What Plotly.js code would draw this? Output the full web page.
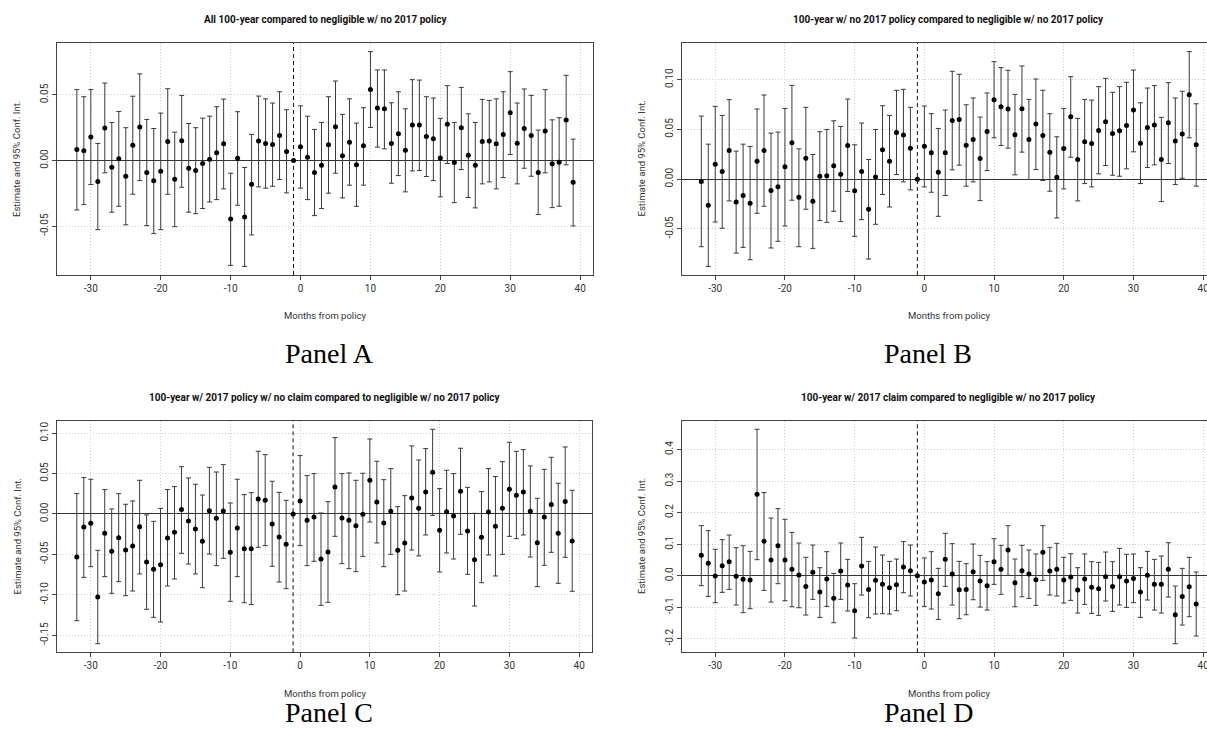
<!DOCTYPE html>
<html><head><meta charset="utf-8">
<script src="https://cdn.plot.ly/plotly-3.0.1.min.js"></script>
<style>html,body{margin:0;padding:0;background:#fff}#chart{width:1207px;height:745px}</style>
</head><body><div id="chart"></div>
<script>
// ---------- DATA ----------
const months = [-32,-31,-30,-29,-28,-27,-26,-25,-24,-23,-22,-21,-20,-19,-18,-17,-16,-15,-14,-13,-12,-11,-10,-9,-8,-7,-6,-5,-4,-3,-2,-1,0,1,2,3,4,5,6,7,8,9,10,11,12,13,14,15,16,17,18,19,20,21,22,23,24,25,26,27,28,29,30,31,32,33,34,35,36,37,38,39];

const titleA = "All 100-year compared to negligible w/ no 2017 policy";
const titleB = "100-year w/ no 2017 policy compared to negligible w/ no 2017 policy";
const titleC = "100-year w/ 2017 policy w/ no claim compared to negligible w/ no 2017 policy";
const titleD = "100-year w/ 2017 claim compared to negligible w/ no 2017 policy";
const panelLabels = ["Panel A","Panel B","Panel C","Panel D"];
const xAxisTitle = "Months from policy";
const yAxisTitle = "Estimate and 95% Conf. Int.";

const xTicks = [-30,-20,-10,0,10,20,30,40];
const xTickText = ["-30","-20","-10","0","10","20","30","40"];
const yTicksA = [-0.05,0,0.05];          const yTickTextA = ["-0.05","0.00","0.05"];
const yTicksB = [-0.05,0,0.05,0.10];     const yTickTextB = ["-0.05","0.00","0.05","0.10"];
const yTicksC = [-0.15,-0.10,-0.05,0,0.05,0.10]; const yTickTextC = ["-0.15","-0.10","-0.05","0.00","0.05","0.10"];
const yTicksD = [-0.2,-0.1,0,0.1,0.2,0.3,0.4];   const yTickTextD = ["-0.2","-0.1","0.0","0.1","0.2","0.3","0.4"];

const estA = [0.0084,0.0074,0.018,-0.016,0.0247,-0.0051,0.0013,-0.012,0.0117,0.0255,-0.0092,-0.0155,-0.0081,0.0145,-0.0143,0.015,-0.0059,-0.0076,-0.0023,0.001,0.0059,0.0127,-0.0445,0.0018,-0.043,-0.018,0.0148,0.013,0.0122,0.0191,0.0069,0,0.0104,0.0025,-0.0092,-0.0036,0.012,0.0257,0.0036,0.014,-0.0033,0.0112,0.0542,0.04,0.0394,0.013,0.0204,0.0079,0.027,0.027,0.0183,0.0165,0.002,0.0277,-0.0015,0.025,0.0041,-0.0036,0.0145,0.0148,0.0127,0.0199,0.0364,0.0132,0.0244,0.0191,-0.0092,0.0224,-0.0025,-0.0013,0.0308,-0.0165];
const lowA = [-0.0377,-0.0336,-0.0183,-0.0527,-0.0094,-0.0394,-0.0349,-0.049,-0.0257,-0.0153,-0.0496,-0.0557,-0.0527,-0.0257,-0.0504,-0.0204,-0.0394,-0.0405,-0.0366,-0.0316,-0.0298,-0.0216,-0.0799,-0.0341,-0.0807,-0.0567,-0.0201,-0.0211,-0.0196,-0.0145,-0.0247,0,-0.0211,-0.0298,-0.042,-0.0366,-0.0249,-0.0097,-0.0285,-0.0188,-0.0349,-0.0188,0.0252,0.0102,0.0089,-0.0173,-0.0115,-0.0239,-0.0079,-0.0076,-0.0122,-0.0153,-0.0277,-0.0023,-0.0321,-0.0069,-0.0282,-0.0361,-0.0178,-0.0163,-0.0216,-0.013,0.0046,-0.0178,-0.0059,-0.012,-0.0412,-0.0094,-0.0359,-0.0349,-0.0033,-0.0499];
const highA = [0.054,0.0486,0.054,0.013,0.059,0.029,0.0374,0.025,0.049,0.066,0.0313,0.0244,0.0361,0.0547,0.0216,0.0496,0.0282,0.025,0.0323,0.0338,0.041,0.0468,-0.0097,0.0372,-0.0053,0.0199,0.0491,0.047,0.0438,0.0524,0.0387,0,0.0417,0.0338,0.0237,0.029,0.0486,0.0606,0.0351,0.047,0.0285,0.0402,0.083,0.069,0.069,0.044,0.0524,0.0394,0.0616,0.0613,0.0486,0.0476,0.0321,0.057,0.029,0.0557,0.0356,0.029,0.0466,0.0458,0.047,0.0524,0.0677,0.0438,0.0545,0.0496,0.0232,0.054,0.031,0.0326,0.0649,0.0163];

const estB = [-0.0023,-0.0262,0.0151,0.0077,0.0289,-0.0228,-0.0164,-0.0242,0.0181,0.0289,-0.0114,-0.0077,0.0124,0.0366,-0.0181,0.0211,-0.0221,0.003,0.0034,0.0134,0.005,0.0339,-0.0117,0.0077,-0.0302,0.0023,0.0295,0.0181,0.047,0.0443,0.0312,0,0.0332,0.0265,0.007,0.0265,0.0591,0.0601,0.0342,0.0399,0.0208,0.048,0.0799,0.0728,0.0705,0.0446,0.0708,0.0399,0.0554,0.044,0.0272,0.002,0.0309,0.0628,0.0198,0.0376,0.0359,0.049,0.0577,0.046,0.0487,0.054,0.0695,0.0362,0.052,0.0544,0.0198,0.0567,0.0383,0.0453,0.0849,0.0346];
const lowB = [-0.0678,-0.0876,-0.043,-0.0493,-0.0218,-0.0742,-0.0685,-0.0809,-0.0342,-0.0272,-0.0691,-0.0624,-0.047,-0.0211,-0.0678,-0.0302,-0.0695,-0.0416,-0.0433,-0.0322,-0.0426,-0.0124,-0.0574,-0.0406,-0.0802,-0.0453,-0.0154,-0.0279,0.0047,-0.0027,-0.0107,0,-0.0077,-0.0131,-0.0373,-0.0164,0.0094,0.0141,-0.007,-0.0027,-0.0215,0.0087,0.0416,0.0339,0.0312,0.0044,0.0272,-0.0003,0.0097,-0.0013,-0.0121,-0.0389,-0.0097,0.0221,-0.0218,-0.0044,-0.0077,0.0054,0.0138,0.004,0.003,0.0104,0.0275,-0.0044,0.0117,0.0144,-0.0225,0.0158,-0.0054,0.001,0.0416,-0.007];
const highB = [0.0634,0.0352,0.0732,0.0641,0.0799,0.0282,0.0352,0.0329,0.0705,0.0846,0.0463,0.0473,0.0711,0.0943,0.0305,0.0722,0.0248,0.0477,0.05,0.0587,0.053,0.0805,0.0346,0.0564,0.0198,0.05,0.0738,0.0641,0.0893,0.0903,0.0722,0,0.0735,0.0658,0.051,0.0695,0.1084,0.1054,0.0748,0.0816,0.0624,0.0866,0.1181,0.1121,0.1094,0.0852,0.1138,0.0802,0.1007,0.0893,0.0658,0.0426,0.0711,0.103,0.0611,0.0802,0.0795,0.093,0.1013,0.0873,0.093,0.0973,0.1097,0.0768,0.0916,0.094,0.0621,0.097,0.0816,0.0883,0.1282,0.0758];

const estC = [-0.0533,-0.0161,-0.0116,-0.1028,-0.024,-0.0463,-0.0293,-0.0446,-0.0396,-0.0157,-0.0595,-0.0686,-0.0628,-0.0297,-0.0227,0.0054,-0.0087,-0.0186,-0.0339,0.0041,-0.0054,0.0037,-0.0475,-0.0173,-0.043,-0.043,0.0186,0.0169,-0.0124,-0.0285,-0.0376,0,0.0161,-0.0078,-0.0037,-0.0558,-0.0471,0.0335,-0.005,-0.0078,-0.0145,-0.0004,0.0417,0.0149,-0.0112,0.0033,-0.045,-0.0359,0.0198,0.007,0.0273,0.0516,-0.0202,0.0029,-0.0025,0.0281,-0.0211,-0.0566,-0.0289,0.0025,-0.0153,0.007,0.0306,0.0231,0.0273,0.0033,-0.0355,-0.0037,0.0116,-0.024,0.0153,-0.0335];
const lowC = [-0.1322,-0.0785,-0.0653,-0.1607,-0.0776,-0.0983,-0.0838,-0.1012,-0.0954,-0.0743,-0.1181,-0.128,-0.1338,-0.0892,-0.0805,-0.0487,-0.062,-0.0743,-0.0913,-0.0496,-0.064,-0.0549,-0.1082,-0.0776,-0.1099,-0.1123,-0.0413,-0.0392,-0.0648,-0.0843,-0.0925,0,-0.0392,-0.064,-0.0586,-0.1132,-0.1094,-0.0277,-0.0615,-0.0677,-0.0714,-0.0525,-0.0099,-0.0359,-0.0653,-0.05,-0.1,-0.0954,-0.0446,-0.052,-0.026,-0.0017,-0.0719,-0.0483,-0.0558,-0.0252,-0.0748,-0.114,-0.0851,-0.0508,-0.0768,-0.05,-0.0277,-0.0306,-0.026,-0.0533,-0.09,-0.0636,-0.0475,-0.0859,-0.0537,-0.0958];
const highC = [0.0252,0.045,0.043,-0.045,0.0302,0.0062,0.0252,0.012,0.0161,0.0417,-0.0012,-0.0091,0.007,0.0302,0.0339,0.0586,0.0446,0.0368,0.0235,0.0578,0.052,0.0611,0.0136,0.043,0.024,0.0264,0.0776,0.0735,0.0405,0.0268,0.0169,0,0.0723,0.0475,0.05,0.0012,0.0153,0.0946,0.05,0.0508,0.0417,0.0504,0.0929,0.0653,0.0425,0.0562,0.0091,0.0227,0.0843,0.0669,0.081,0.1049,0.0314,0.0541,0.05,0.0814,0.033,0.0008,0.0277,0.0562,0.0463,0.0648,0.0888,0.0776,0.0797,0.0595,0.0194,0.0553,0.0702,0.038,0.083,0.0293];

const estD = [0.0645,0.0391,-0.001,0.0317,0.0444,-0.0021,-0.0116,-0.0138,0.2582,0.109,0.0497,0.0952,0.0497,0.0201,0.0021,-0.0339,0.0106,-0.0518,-0.0106,-0.0719,0.0148,-0.0296,-0.1111,0.0307,-0.0434,-0.0148,-0.0275,-0.0381,-0.0286,0.0275,0.0159,0,-0.0201,-0.0138,-0.0571,0.0518,0.0053,-0.0444,-0.0434,0.0127,-0.0169,-0.0317,0.0444,0.0201,0.0815,-0.0222,0.0159,0.0053,-0.0127,0.0741,0.0148,0.0201,-0.0138,-0.0042,-0.0455,-0.0106,-0.037,-0.0413,-0.0032,-0.0339,-0.0032,-0.0169,-0.0085,-0.0518,0.0011,-0.0275,-0.0275,0.0201,-0.1238,-0.0656,-0.0349,-0.0899];
const lowD = [-0.0317,-0.0656,-0.0857,-0.0529,-0.0434,-0.0931,-0.1174,-0.1047,0.0508,-0.0466,-0.0836,-0.0254,-0.0794,-0.0984,-0.1016,-0.1248,-0.0751,-0.1323,-0.0973,-0.1492,-0.0751,-0.1121,-0.1978,-0.0614,-0.1333,-0.1217,-0.1206,-0.1217,-0.1111,-0.054,-0.0645,0,-0.0973,-0.1058,-0.1386,-0.0339,-0.0931,-0.1365,-0.1238,-0.0762,-0.0995,-0.109,-0.0275,-0.0592,0.0011,-0.0984,-0.0667,-0.0719,-0.0942,-0.0148,-0.0614,-0.0645,-0.0868,-0.0783,-0.1185,-0.091,-0.1196,-0.1259,-0.0804,-0.1132,-0.0931,-0.1005,-0.0857,-0.1323,-0.0772,-0.109,-0.1185,-0.0677,-0.2158,-0.1566,-0.1301,-0.1915];
const highD = [0.1587,0.1428,0.0836,0.1143,0.1291,0.0889,0.0952,0.0772,0.4645,0.2634,0.183,0.2127,0.1788,0.1375,0.1037,0.0582,0.0973,0.0254,0.0762,0.0074,0.1037,0.0518,-0.0254,0.1217,0.0455,0.091,0.0656,0.0455,0.0529,0.1079,0.0973,0,0.0561,0.0762,0.0233,0.1344,0.1016,0.0455,0.0381,0.1005,0.0645,0.0444,0.1174,0.0963,0.1587,0.0529,0.0963,0.0815,0.0688,0.1587,0.0899,0.1026,0.0582,0.0698,0.0254,0.0688,0.0444,0.0423,0.0751,0.0444,0.0868,0.0677,0.0688,0.0254,0.0772,0.0518,0.0624,0.1047,-0.0328,0.0233,0.0582,0.0116];

const policyMonth = -1;

// ---------- LAYOUT HELPERS ----------
const W = 1207, H = 745;
const FONT = "Roboto, 'Liberation Sans', Arial, sans-serif";
function ext(lo, hi){ const d = hi - lo; return [lo - 0.04*d, hi + 0.04*d]; }
const xFull = ext(Math.min(...months), Math.max(...months));

const panels = [
  {est:estA, low:lowA, high:highA, title:titleA, yt:yTicksA, ytt:yTickTextA, left:57, right:593, top:43, bottom:275, clipRight:false},
  {est:estB, low:lowB, high:highB, title:titleB, yt:yTicksB, ytt:yTickTextB, left:681.5, right:1216, top:43, bottom:275, clipRight:true},
  {est:estC, low:lowC, high:highC, title:titleC, yt:yTicksC, ytt:yTickTextC, left:57, right:592, top:420.7, bottom:652.3, clipRight:false},
  {est:estD, low:lowD, high:highD, title:titleD, yt:yTicksD, ytt:yTickTextD, left:681.5, right:1216, top:420.7, bottom:652.3, clipRight:true}
];
const captionPos = [[329,353],[928,353],[329,712],[928,712]];

const traces = [];
const layout = {
  width: W, height: H,
  margin: {l:0, r:0, t:0, b:0, pad:0},
  paper_bgcolor: '#fff', plot_bgcolor: '#fff',
  showlegend: false,
  annotations: [], shapes: []
};

panels.forEach((p, i) => {
  const n = i === 0 ? '' : String(i + 1);
  const plotRight = Math.min(p.right, W);
  const pxPerUnit = (p.right - p.left) / (xFull[1] - xFull[0]);
  const xr = [xFull[0], xFull[0] + (plotRight - p.left) / pxPerUnit];
  const yr = ext(Math.min(...p.low), Math.max(...p.high));

  traces.push({
    type: 'scatter', mode: 'markers',
    x: months, y: p.est,
    xaxis: 'x' + n, yaxis: 'y' + n,
    marker: {color: '#000', size: 5},
    error_y: {
      type: 'data', symmetric: false,
      array: p.high.map((h, k) => Math.max(0, h - p.est[k])),
      arrayminus: p.est.map((e, k) => Math.max(0, e - p.low[k])),
      color: '#3a3a3a', thickness: 1, width: 2.5
    },
    hoverinfo: 'skip', cliponaxis: true
  });

  layout['xaxis' + n] = {
    domain: [p.left / W, plotRight / W], range: xr, anchor: 'y' + n,
    tickmode: 'array', tickvals: xTicks, ticktext: xTickText,
    ticks: 'outside', ticklen: 4, tickcolor: '#444', tickwidth: 1,
    ticklabeloverflow: 'allow',
    showline: true, mirror: true, linecolor: '#444', linewidth: 1,
    showgrid: true, gridcolor: '#cfcfcf', griddash: '1px,2px', gridwidth: 1,
    zeroline: false, fixedrange: true,
    tickfont: {family: FONT, size: 10, color: '#333'}
  };
  layout['yaxis' + n] = {
    domain: [1 - p.bottom / H, 1 - p.top / H], range: yr, anchor: 'x' + n,
    tickmode: 'array', tickvals: p.yt, ticktext: p.ytt, tickangle: -90,
    ticks: 'outside', ticklen: 4, tickcolor: '#444', tickwidth: 1,
    showline: true, mirror: !p.clipRight, linecolor: '#444', linewidth: 1,
    showgrid: true, gridcolor: '#cfcfcf', griddash: '1px,2px', gridwidth: 1,
    zeroline: true, zerolinecolor: '#333', zerolinewidth: 1, fixedrange: true,
    tickfont: {family: FONT, size: 10, color: '#333'}
  };

  // dashed vertical line at policy month
  layout.shapes.push({
    type: 'line', xref: 'x' + n, yref: 'y' + n + ' domain',
    x0: policyMonth, x1: policyMonth, y0: 0, y1: 1,
    line: {color: '#111', width: 1, dash: '4px,3px'}, layer: 'above'
  });

  const cx = (p.left + p.right) / 2;
  const cy = (p.top + p.bottom) / 2;
  layout.annotations.push({
    xref: 'paper', yref: 'paper', x: cx / W, y: 1 - (p.top - 23) / H,
    text: '<b>' + p.title + '</b>', showarrow: false,
    xanchor: 'center', yanchor: 'middle',
    font: {family: FONT, size: 10, color: '#111'}
  });
  layout.annotations.push({
    xref: 'paper', yref: 'paper', x: cx / W, y: 1 - (p.bottom + 41) / H,
    text: xAxisTitle, showarrow: false, xanchor: 'center', yanchor: 'middle',
    font: {family: FONT, size: 9.5, color: '#333'}
  });
  layout.annotations.push({
    xref: 'paper', yref: 'paper', x: (p.left - 40) / W, y: 1 - cy / H,
    text: yAxisTitle, showarrow: false, textangle: -90, xanchor: 'center', yanchor: 'middle',
    font: {family: FONT, size: 9.5, color: '#333'}
  });
  layout.annotations.push({
    xref: 'paper', yref: 'paper', x: captionPos[i][0] / W, y: 1 - captionPos[i][1] / H,
    text: panelLabels[i], showarrow: false, xanchor: 'center', yanchor: 'middle',
    font: {family: "'Liberation Serif', 'Times New Roman', serif", size: 28, color: '#000'}
  });
});

Plotly.newPlot('chart', traces, layout, {displayModeBar: false, staticPlot: true});
</script>
</body></html>
